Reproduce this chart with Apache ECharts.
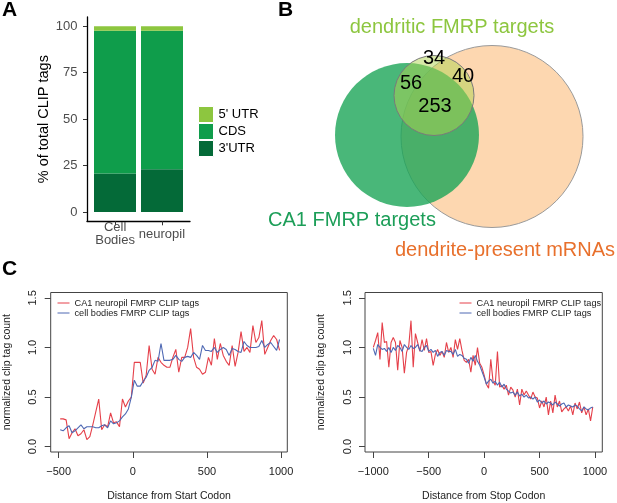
<!DOCTYPE html>
<html>
<head>
<meta charset="utf-8">
<script src="https://cdn.jsdelivr.net/npm/echarts@6/dist/echarts.min.js"></script>
<style>
  html, body { margin: 0; padding: 0; background: #fff; }
  #chart { width: 617px; height: 503px; }
</style>
</head>
<body>
<div id="chart"></div>
<script>
// === Panel A: share of CLIP tags per transcript region
const sampleNames = ['Cell\nBodies', 'neuropil'];
const regionNames = ["5' UTR", 'CDS', "3'UTR"];
const utr3Share = [20.8, 23.0];
const cdsShare = [76.8, 74.6];
const utr5Share = [2.4, 2.4];
const shareTicks = [0, 25, 50, 75, 100];

// === Panel B: Venn diagram
const vennSets = ['dendrite-present mRNAs', 'CA1 FMRP targets', 'dendritic FMRP targets'];
const vennCx = [492, 407, 434];
const vennCy = [136.5, 135, 95.5];
const vennR = [91, 72, 40];
const vennCounts = [34, 40, 56, 253];
const vennLabelX = [434, 463, 411, 435];
const vennLabelY = [58, 76, 83, 106];

// === Panel C: metagene profiles
const neuropilName = 'CA1 neuropil FMRP CLIP tags';
const cellName = 'cell bodies FMRP CLIP tags';

function bins(from, to, step) {
    const out = [];
    for (let x = from; x <= to; x += step) out.push(x);
    return out;
}
const startBins = bins(-490, 990, 20);
const stopBins = bins(-1000, 980, 20);

const startNeuropil = [
    0.28, 0.28, 0.27, 0.08, 0.14, 0.18, 0.11, 0.13, 0.17, 0.07,
    0.10, 0.22, 0.35, 0.48, 0.17, 0.22, 0.20, 0.34, 0.24, 0.25,
    0.20, 0.48, 0.40, 0.46, 0.50,
    0.85, 0.85, 0.85, 0.64, 0.72, 1.02, 0.78, 0.73, 0.90, 0.85,
    0.82, 0.80, 0.80, 0.90, 0.98, 0.75, 0.90, 0.90, 1.00, 1.19,
    0.90, 0.80, 0.78, 0.73, 0.75, 0.90, 0.82, 1.09, 0.88, 1.04,
    0.92, 0.86, 0.82, 1.02, 0.81, 0.95, 1.16, 0.96, 1.00, 0.95,
    1.22, 1.05, 1.10, 1.27, 0.93, 1.00, 1.07, 1.12, 1.08, 0.97
];
const startCell = [
    0.17, 0.16, 0.19, 0.21, 0.14, 0.16, 0.19, 0.22, 0.18, 0.20,
    0.20, 0.20, 0.19, 0.19, 0.21, 0.22, 0.19, 0.26, 0.23, 0.24,
    0.26, 0.30, 0.33, 0.38, 0.50,
    0.67, 0.61, 0.61, 0.66, 0.70, 0.77, 0.80, 0.87, 0.86, 1.04,
    0.87, 0.87, 0.87, 0.88, 0.92, 0.88, 0.86, 0.90, 0.91, 0.90,
    0.95, 0.92, 0.88, 1.02, 0.97, 0.97, 0.96, 1.00, 0.95, 0.98,
    1.00, 0.98, 0.92, 0.99, 0.98, 0.96, 0.95, 1.06, 1.02, 1.00,
    1.00, 1.00, 1.01, 1.07, 1.00, 1.03, 1.05, 1.01, 0.97, 1.08
];
const stopNeuropil = [
    1.00, 1.07, 1.15, 0.88, 1.25, 1.05, 1.06, 0.80, 1.05, 1.10,
    1.05, 0.77, 1.07, 1.00, 0.74, 0.95, 1.02, 1.27, 0.80, 1.14,
    1.05, 0.96, 1.08, 0.97, 1.09, 0.95, 0.96, 0.82, 0.93, 0.98,
    0.92, 0.96, 0.90, 1.05, 0.95, 1.00, 0.90, 1.08, 0.98, 1.09,
    0.97, 0.87, 0.85, 0.88, 0.75, 0.92, 0.82, 1.00, 0.84, 0.80,
    0.72, 0.63, 0.59, 0.88, 0.66, 0.62, 0.96, 0.60, 0.62, 0.58,
    0.62, 0.52, 0.60, 0.57, 0.50, 0.58, 0.42, 0.58, 0.52, 0.56,
    0.52, 0.48, 0.55, 0.50, 0.49, 0.39, 0.46, 0.40, 0.50, 0.32,
    0.46, 0.34, 0.52, 0.40, 0.46, 0.35, 0.38, 0.40, 0.36, 0.41,
    0.32, 0.44, 0.38, 0.45, 0.34, 0.40, 0.32, 0.38, 0.26, 0.40
];
const stopCell = [
    0.99, 0.92, 1.03, 1.00, 0.98, 0.99, 0.96, 1.00, 0.95, 1.00,
    0.97, 1.02, 1.00, 0.96, 1.03, 1.00, 0.98, 1.02, 0.99, 1.00,
    1.03, 0.97, 0.96, 1.00, 1.02, 0.96, 0.98, 0.95, 0.97, 0.91,
    0.95, 0.96, 0.92, 0.97, 0.96, 0.96, 0.93, 0.98, 0.91, 0.93,
    0.92, 0.89, 0.88, 0.84, 0.90, 0.86, 0.92, 0.86, 0.82, 0.76,
    0.70, 0.63, 0.66, 0.68, 0.64, 0.66, 0.62, 0.65, 0.60, 0.63,
    0.58, 0.56, 0.54, 0.55, 0.52, 0.55, 0.51, 0.53, 0.50, 0.52,
    0.49, 0.50, 0.48, 0.50, 0.45, 0.47, 0.44, 0.46, 0.43, 0.45,
    0.44, 0.42, 0.45, 0.43, 0.41, 0.43, 0.44, 0.40, 0.42, 0.41,
    0.40, 0.42, 0.41, 0.38, 0.36, 0.40, 0.38, 0.37, 0.39, 0.40
];
const startTicks = [-500, 0, 500, 1000];
const stopTicks = [-1000, -500, 0, 500, 1000];
const countTicks = [0, 0.5, 1, 1.5];

// === Styles
const FONT = '"Liberation Sans", Arial, Helvetica, sans-serif';
const GREEN_LIGHT = '#8DC63F';
const GREEN_MID = '#0F9D4B';
const GREEN_DARK = '#046A38';
const RED = '#E5404A';
const BLUE = '#4E68B3';
const vennFill = ['rgba(251,190,128,0.62)', 'rgba(28,165,88,0.80)', 'rgba(175,212,80,0.50)'];
const vennStroke = ['#9a9a9a', 'rgba(0,0,0,0)', '#7a7a7a'];
const vennTitleColor = ['#E8702C', '#1C9E58', GREEN_LIGHT];
const vennTitleX = [505, 352, 452];
const vennTitleY = [250, 220, 27];

const chart = echarts.init(document.getElementById('chart'));

function profileXAxis(gridIndex, min, max, ticks, name) {
    return {
        type: 'value', gridIndex: gridIndex, min: min, max: max,
        name: name, nameLocation: 'middle', nameGap: 39,
        nameTextStyle: { fontFamily: FONT, fontSize: 10.5, color: '#222' },
        axisLine: { show: false, onZero: false },
        axisTick: { show: true, customValues: ticks, length: 6, lineStyle: { color: '#444' } },
        axisLabel: {
            customValues: ticks, margin: 14, fontFamily: FONT, fontSize: 11, color: '#222',
            formatter: v => String(v).replace('-', '\u2212')
        },
        splitLine: { show: false }
    };
}

function profileYAxis(gridIndex) {
    return {
        type: 'value', gridIndex: gridIndex, min: -0.054, max: 1.554,
        name: 'normalized clip tag count', nameLocation: 'middle', nameGap: 38,
        nameTextStyle: { fontFamily: FONT, fontSize: 10.5, color: '#222' },
        axisLine: { show: false, onZero: false },
        axisTick: { show: true, customValues: countTicks, length: 6, lineStyle: { color: '#444' } },
        axisLabel: {
            customValues: countTicks, rotate: 90, margin: 12,
            align: 'center', verticalAlign: 'bottom',
            fontFamily: FONT, fontSize: 11, color: '#222',
            formatter: v => v.toFixed(1)
        },
        splitLine: { show: false }
    };
}

function profileLegend(left) {
    return {
        data: [neuropilName, cellName], orient: 'vertical', left: left, top: 298,
        itemWidth: 12, itemHeight: 10, itemGap: 0, padding: 0,
        itemStyle: { opacity: 0 },
        lineStyle: { width: 1 },
        textStyle: { fontFamily: FONT, fontSize: 9.2, lineHeight: 10, color: '#222' }
    };
}

function profileLine(name, xAxisIndex, xs, ys, color) {
    return {
        name: name, type: 'line', xAxisIndex: xAxisIndex, yAxisIndex: xAxisIndex,
        data: xs.map((x, i) => [x, ys[i]]),
        symbol: 'none', lineStyle: { color: color, width: 1.1 }, itemStyle: { color: color }
    };
}

function shareBar(name, values, color) {
    return {
        name: name, type: 'bar', stack: 'share', xAxisIndex: 4, yAxisIndex: 4, barWidth: 42,
        data: values, itemStyle: { color: color }
    };
}

const option = {
    backgroundColor: '#fff',
    animation: false,
    textStyle: { fontFamily: FONT },
    grid: [
        { left: 87, top: 17, width: 103, height: 204.3 },
        { left: 50.7, top: 292.5, width: 236.6, height: 160.8, show: true, borderColor: '#444', borderWidth: 1 },
        { left: 365, top: 292.5, width: 237.3, height: 160.8, show: true, borderColor: '#444', borderWidth: 1 },
        { left: 0, top: 0, width: 617, height: 503 },
        { left: 91.5, top: 17, width: 94, height: 204.3 }
    ],
    xAxis: [
        {
            type: 'value', gridIndex: 0, min: 0.4, max: 2.6,
            axisLine: { show: true, onZero: false, lineStyle: { color: '#000', width: 1.3 } },
            axisTick: { show: true, customValues: [1, 2], length: 4, lineStyle: { color: '#333' } },
            axisLabel: {
                customValues: [1, 2], margin: 13, verticalAlign: 'middle', lineHeight: 13,
                fontFamily: FONT, fontSize: 13, color: '#4D4D4D',
                formatter: v => sampleNames[Math.round(v) - 1]
            },
            splitLine: { show: false }
        },
        profileXAxis(1, -554, 1042, startTicks, 'Distance from Start Codon'),
        profileXAxis(2, -1075, 1066, stopTicks, 'Distance from Stop Codon'),
        { type: 'value', gridIndex: 3, min: 0, max: 617, show: false },
        { type: 'category', gridIndex: 4, data: sampleNames, show: false }
    ],
    yAxis: [
        {
            type: 'value', gridIndex: 0, min: -5, max: 105,
            name: '% of total CLIP tags', nameLocation: 'middle', nameGap: 36,
            nameTextStyle: { fontFamily: FONT, fontSize: 14.5, color: '#000' },
            axisLine: { show: true, onZero: false, lineStyle: { color: '#000', width: 1.3 } },
            axisTick: { show: true, customValues: shareTicks, length: 4, lineStyle: { color: '#333' } },
            axisLabel: { customValues: shareTicks, margin: 9.5, fontFamily: FONT, fontSize: 13, color: '#4D4D4D' },
            splitLine: { show: false }
        },
        profileYAxis(1),
        profileYAxis(2),
        { type: 'value', gridIndex: 3, min: 0, max: 503, inverse: true, show: false },
        { type: 'value', gridIndex: 4, min: -5, max: 105, show: false }
    ],
    legend: [
        {
            data: regionNames, orient: 'vertical', left: 198, top: 106,
            itemWidth: 15, itemHeight: 16, itemGap: 0, padding: 0, icon: 'rect',
            itemStyle: { borderColor: '#fff', borderWidth: 1 },
            textStyle: { fontFamily: FONT, fontSize: 13, color: '#000' }
        },
        profileLegend(57),
        profileLegend(459)
    ],
    series: [
        shareBar("3'UTR", utr3Share, GREEN_DARK),
        shareBar('CDS', cdsShare, GREEN_MID),
        shareBar("5' UTR", utr5Share, GREEN_LIGHT),
        profileLine(neuropilName, 1, startBins, startNeuropil, RED),
        profileLine(cellName, 1, startBins, startCell, BLUE),
        profileLine(neuropilName, 2, stopBins, stopNeuropil, RED),
        profileLine(cellName, 2, stopBins, stopCell, BLUE),
        {
            type: 'custom', xAxisIndex: 3, yAxisIndex: 3, silent: true,
            data: vennSets.map((n, i) => [vennCx[i], vennCy[i], vennR[i]]),
            renderItem: function (params, api) {
                const c = api.coord([api.value(0), api.value(1)]);
                const r = api.size([api.value(2), 0])[0];
                return {
                    type: 'circle',
                    shape: { cx: c[0], cy: c[1], r: r },
                    style: { fill: vennFill[params.dataIndex], stroke: vennStroke[params.dataIndex], lineWidth: 1 }
                };
            }
        },
        {
            type: 'custom', xAxisIndex: 3, yAxisIndex: 3, silent: true, z: 3,
            data: vennCounts.map((c, i) => [vennLabelX[i], vennLabelY[i], c]),
            renderItem: function (params, api) {
                const p = api.coord([api.value(0), api.value(1)]);
                return {
                    type: 'text', x: p[0], y: p[1],
                    style: {
                        text: String(api.value(2)), textAlign: 'center', textVerticalAlign: 'middle',
                        font: '20px ' + FONT, fill: '#000'
                    }
                };
            }
        },
        {
            type: 'custom', xAxisIndex: 3, yAxisIndex: 3, silent: true, z: 3,
            data: vennSets.map((n, i) => [vennTitleX[i], vennTitleY[i]]),
            renderItem: function (params, api) {
                const p = api.coord([api.value(0), api.value(1)]);
                return {
                    type: 'text', x: p[0], y: p[1],
                    style: {
                        text: vennSets[params.dataIndex], textAlign: 'center', textVerticalAlign: 'middle',
                        font: '20px ' + FONT, fill: vennTitleColor[params.dataIndex]
                    }
                };
            }
        }
    ],
    graphic: [
        { type: 'text', left: 2, top: 0, style: { text: 'A', font: 'bold 21px ' + FONT, fill: '#000' } },
        { type: 'text', left: 278, top: 0, style: { text: 'B', font: 'bold 21px ' + FONT, fill: '#000' } },
        { type: 'text', left: 2, top: 259, style: { text: 'C', font: 'bold 21px ' + FONT, fill: '#000' } }
    ]
};

chart.setOption(option);
</script>
</body>
</html>
